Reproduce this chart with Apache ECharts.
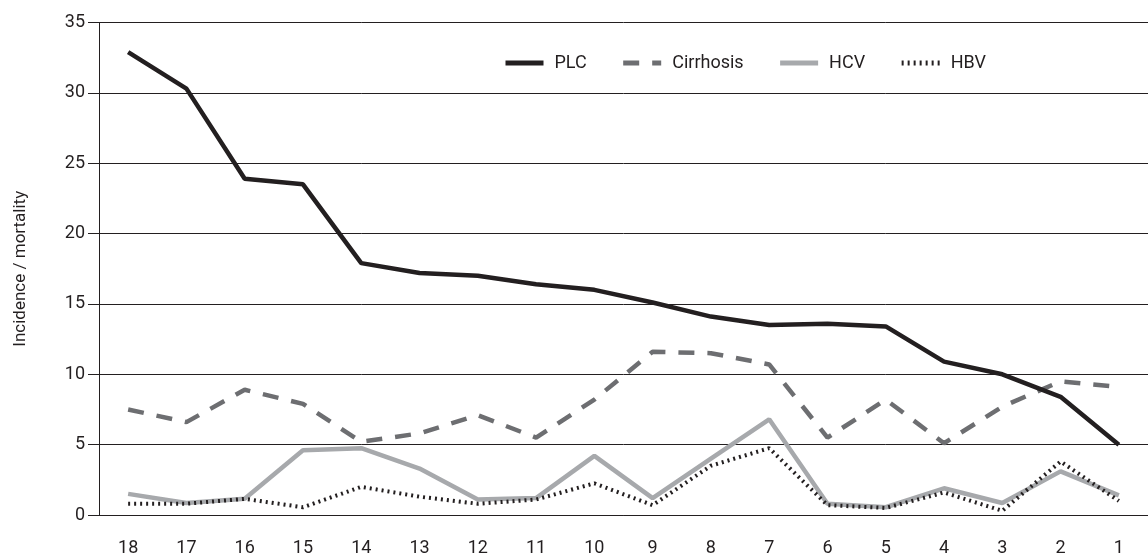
<!DOCTYPE html>
<html>
<head>
<meta charset="utf-8">
<script src="https://cdn.jsdelivr.net/npm/echarts@6/dist/echarts.min.js"></script>
<style>
html,body{margin:0;padding:0;background:#fff;}
#c{width:1148px;height:557px;}
</style>
</head>
<body>
<div id="c"></div>
<script>
const categories = ['18','17','16','15','14','13','12','11','10','9','8','7','6','5','4','3','2','1'];
const plc       = [32.9, 30.3, 23.9, 23.5, 17.9, 17.2, 17.0, 16.4, 16.0, 15.1, 14.1, 13.5, 13.6, 13.4, 10.9, 10.0, 8.4, 5.0];
const cirrhosis = [7.5, 6.6, 8.9, 7.9, 5.2, 5.8, 7.1, 5.5, 8.2, 11.6, 11.5, 10.7, 5.5, 8.2, 5.1, 7.7, 9.5, 9.1];
const hcv       = [1.5, 0.85, 1.15, 4.6, 4.75, 3.3, 1.1, 1.2, 4.2, 1.2, 4.0, 6.8, 0.8, 0.55, 1.9, 0.85, 3.1, 1.4];
const hbv       = [0.8, 0.8, 1.15, 0.55, 2.0, 1.3, 0.8, 1.1, 2.25, 0.7, 3.5, 4.75, 0.7, 0.5, 1.6, 0.3, 3.8, 1.0];
const yTicks    = [0, 5, 10, 15, 20, 25, 30, 35];

const FONT = '"Roboto", "Liberation Sans", sans-serif';
const chart = echarts.init(document.getElementById('c'), null, {renderer: 'canvas'});
chart.setOption({
  animation: false,
  backgroundColor: '#ffffff',
  grid: {left: 99, right: -9, top: 22.5, bottom: 40, containLabel: false},
  legend: {
    data: ['PLC', 'Cirrhosis', 'HCV', 'HBV'],
    left: 498, top: 49,
    itemWidth: 38, itemHeight: 14, itemGap: 34,
    itemStyle: {color: 'transparent', borderColor: 'transparent', borderWidth: 0},
    lineStyle: {width: 5},
    textStyle: {fontFamily: FONT, fontSize: 18, color: '#231f20', padding: [0,0,0,6]}
  },
  xAxis: {
    type: 'category',
    data: categories,
    boundaryGap: true,
    axisLine: {show: true, lineStyle: {color: '#231f20', width: 1}},
    axisTick: {show: false},
    axisLabel: {fontFamily: FONT, fontSize: 18, color: '#231f20', margin: 24}
  },
  yAxis: {
    type: 'value',
    min: 0, max: 35, interval: 5,
    name: 'Incidence / mortality',
    nameLocation: 'middle',
    nameGap: 70,
    nameTextStyle: {fontFamily: FONT, fontSize: 17, color: '#231f20'},
    axisLine: {show: true, lineStyle: {color: '#231f20', width: 1}},
    axisTick: {show: true, inside: false, length: 11, lineStyle: {color: '#231f20'}},
    axisLabel: {fontFamily: FONT, fontSize: 18, color: '#231f20', margin: 14,
      formatter: v => yTicks.includes(v) ? String(v) : ''},
    splitLine: {show: true, lineStyle: {color: '#231f20', width: 1}}
  },
  series: [
    {name: 'PLC', type: 'line', data: plc, symbol: 'none', z: 5,
     lineStyle: {color: '#231f20', width: 4.5}, itemStyle: {color: '#231f20'}},
    {name: 'Cirrhosis', type: 'line', data: cirrhosis, symbol: 'none', z: 2,
     lineStyle: {color: '#6d6e71', width: 4.5, type: [16, 13]}, itemStyle: {color: '#6d6e71'}},
    {name: 'HCV', type: 'line', data: hcv, symbol: 'none', z: 3,
     lineStyle: {color: '#a7a9ac', width: 4.5}, itemStyle: {color: '#a7a9ac'}},
    {name: 'HBV', type: 'line', data: hbv, symbol: 'none', z: 4,
     lineStyle: {color: '#231f20', width: 4, type: [2, 4]}, itemStyle: {color: '#231f20'}}
  ]
});
</script>
</body>
</html>
